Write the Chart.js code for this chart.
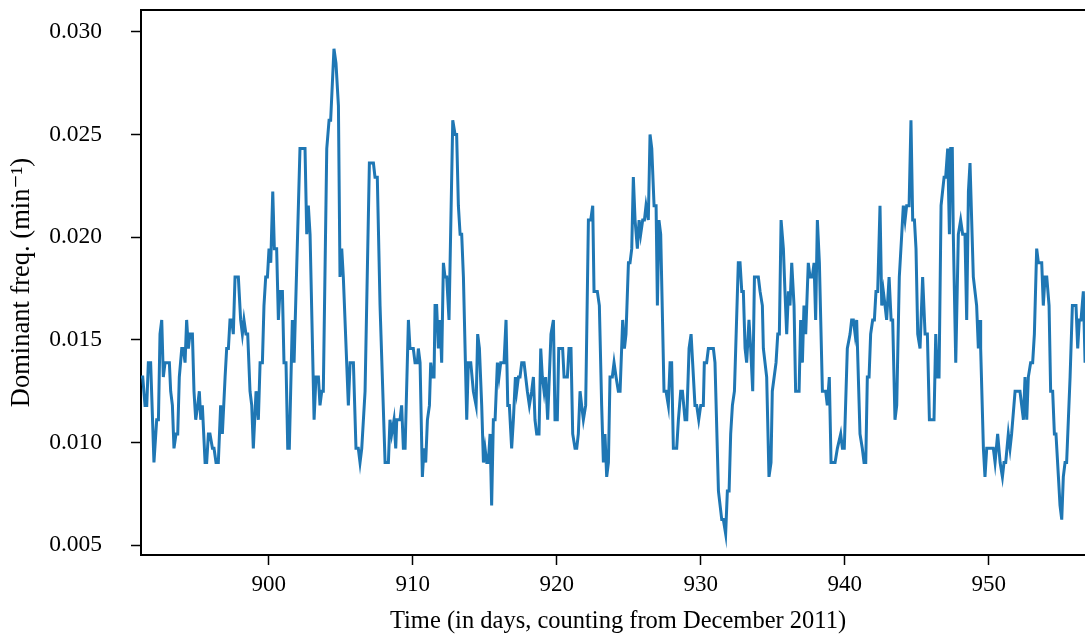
<!DOCTYPE html>
<html>
<head>
<meta charset="utf-8">
<script src="https://cdn.jsdelivr.net/npm/chart.js@4/dist/chart.umd.min.js"></script>
<style>
  html, body { margin: 0; padding: 0; background: #ffffff; overflow: hidden; }
  #wrap { width: 1095px; height: 636px; }
</style>
</head>
<body>
<div id="wrap"><canvas id="c" width="1095" height="636"></canvas></div>
<script>
// Time in days (counting from December 2011)
const days = [
891.13,891.25,891.41,891.53,891.64,891.80,892.03,892.22,892.34,892.45,892.57,892.68,892.80,893.10,893.19,893.31,893.42,893.56,893.68,893.79,
893.96,894.07,894.19,894.30,894.42,894.53,894.70,894.81,894.93,895.07,895.18,895.28,895.39,895.58,895.69,895.81,895.92,896.09,896.20,896.34,
896.50,896.66,896.78,896.97,897.08,897.20,897.31,897.43,897.54,897.66,897.89,898.05,898.17,898.28,898.42,898.54,898.70,898.82,898.93,899.12,
899.28,899.40,899.56,899.67,899.79,899.91,900.02,900.14,900.28,900.39,900.55,900.67,900.78,900.95,901.06,901.20,901.32,901.43,901.64,901.76,
902.17,902.52,902.64,902.75,902.87,903.15,903.28,903.45,903.56,903.68,903.79,904.03,904.19,904.30,904.53,904.67,904.84,904.95,905.07,905.18,
905.53,905.65,905.88,906.06,906.22,906.34,906.46,906.69,906.99,907.27,907.38,907.54,907.73,908.08,908.31,908.42,908.54,908.70,908.82,908.89,
909.12,909.23,909.35,909.47,909.70,909.81,910.04,910.16,910.32,910.39,910.51,910.67,910.78,910.90,911.02,911.16,911.25,911.36,911.48,911.55,
911.66,911.78,911.90,912.01,912.13,912.24,912.36,912.52,912.78,912.94,913.05,913.17,913.29,913.40,913.52,913.75,913.86,914.03,914.21,914.40,
914.51,914.63,914.79,914.91,915.02,915.14,915.25,915.37,915.48,915.60,915.72,915.88,915.99,916.11,916.34,916.48,916.60,916.71,916.87,916.99,
917.13,917.22,917.34,917.45,917.57,917.73,917.96,918.10,918.26,918.38,918.49,918.61,918.77,918.89,919.00,919.12,919.23,919.37,919.60,919.77,
919.88,920.04,920.14,920.41,920.51,920.74,920.85,920.99,921.11,921.27,921.39,921.50,921.62,921.73,921.85,922.01,922.20,922.36,922.50,922.59,
922.82,922.96,923.12,923.24,923.35,923.47,923.59,923.70,923.86,923.98,924.12,924.28,924.40,924.58,924.70,924.81,924.98,925.09,925.21,925.32,
925.44,925.60,925.72,925.83,925.97,926.09,926.20,926.36,926.48,926.60,926.76,926.90,926.99,927.10,927.22,927.45,927.59,927.75,927.87,927.98,
928.10,928.33,928.45,928.61,928.73,928.91,929.03,929.19,929.33,929.60,929.72,929.86,930.00,930.18,930.25,930.41,930.53,930.88,930.99,931.23,
931.46,931.57,931.73,931.85,931.97,932.08,932.20,932.34,932.61,932.73,932.85,932.96,933.08,933.19,933.35,933.47,933.61,933.73,934.00,934.12,
934.28,934.35,934.58,934.74,934.88,934.97,935.23,935.35,935.46,935.58,935.74,935.85,935.97,936.09,936.20,936.32,936.48,936.59,936.83,936.94,
937.06,937.17,937.29,937.47,937.59,937.75,937.87,937.98,938.10,938.24,938.45,938.68,938.79,938.93,939.05,939.33,939.49,939.72,939.84,939.97,
940.18,940.37,940.48,940.60,940.72,940.83,941.06,941.22,941.34,941.46,941.57,941.69,941.80,941.94,942.06,942.17,942.29,942.45,942.57,942.68,
942.80,942.91,943.08,943.22,943.33,943.49,943.61,943.79,943.96,944.07,944.19,944.30,944.47,944.60,944.72,944.84,944.95,945.07,945.23,945.41,
945.58,945.74,945.88,946.20,946.32,946.43,946.55,946.69,946.90,947.01,947.15,947.27,947.36,947.47,947.54,947.71,947.89,948.05,948.19,948.35,
948.47,948.59,948.70,948.93,949.16,949.28,949.40,949.44,949.63,949.74,949.86,950.32,950.44,950.62,950.79,950.95,951.06,951.18,951.36,951.48,
951.59,951.83,952.17,952.41,952.52,952.64,952.75,952.91,953.05,953.17,953.33,953.45,953.68,953.79,953.91,954.03,954.19,954.30,954.44,954.56,
954.67,954.84,954.95,955.07,955.18,955.30,955.41,955.53,955.65,955.81,956.06,956.18,956.29,956.41,956.57,956.69
];

// Dominant frequency (min^-1)
const freq = [
.01319,.01319,.01181,.01181,.01389,.01389,.00903,.01111,.01111,.01528,.01597,.01319,.01389,.01389,.01250,.01181,.00972,.01042,.01042,.01319,
.01458,.01458,.01389,.01597,.01458,.01528,.01528,.01250,.01111,.01181,.01250,.01111,.01181,.00903,.00903,.01042,.01042,.00972,.00972,.00903,
.00903,.01181,.01042,.01319,.01458,.01458,.01597,.01597,.01528,.01806,.01806,.01597,.01528,.01597,.01528,.01528,.01250,.01181,.00972,.01250,
.01111,.01389,.01389,.01667,.01806,.01806,.01944,.01875,.02222,.01944,.01944,.01597,.01736,.01736,.01389,.01389,.00972,.00972,.01597,.01389,
.02431,.02431,.02014,.02153,.02014,.01111,.01319,.01319,.01181,.01250,.01250,.02431,.02569,.02569,.02917,.02847,.02639,.01806,.01944,.01806,
.01181,.01389,.01389,.00972,.00972,.00903,.00972,.01250,.02361,.02361,.02292,.02292,.01667,.00903,.00903,.01111,.01042,.01111,.00972,.01111,
.01111,.01181,.00972,.00972,.01597,.01458,.01458,.01389,.01389,.01458,.01389,.00833,.00972,.00903,.01111,.01181,.01389,.01319,.01319,.01667,
.01667,.01458,.01597,.01389,.01875,.01806,.01806,.01597,.02569,.02500,.02500,.02153,.02014,.02014,.01806,.01111,.01389,.01389,.01250,.01181,
.01528,.01458,.01181,.00903,.00972,.00903,.00903,.01042,.00694,.01111,.01111,.01389,.01319,.01389,.01389,.01597,.01181,.01181,.00972,.01111,
.01319,.01250,.01319,.01319,.01389,.01389,.01250,.01181,.01250,.01319,.01111,.01042,.01042,.01458,.01319,.01250,.01319,.01111,.01528,.01597,
.01111,.01111,.01458,.01458,.01319,.01319,.01458,.01458,.01042,.00972,.00972,.01042,.01250,.01181,.01111,.01181,.02083,.02083,.02153,.01736,
.01736,.01667,.01181,.00903,.01042,.00833,.00903,.01319,.01319,.01389,.01319,.01250,.01250,.01597,.01458,.01528,.01875,.01875,.01944,.02292,
.02083,.01944,.02083,.02014,.02083,.02083,.02153,.02083,.02500,.02431,.02153,.02153,.01667,.02083,.02014,.01250,.01250,.01181,.01389,.01389,
.00972,.00972,.01111,.01250,.01250,.01111,.01111,.01458,.01528,.01181,.01181,.01111,.01181,.01181,.01389,.01389,.01458,.01458,.01389,.00764,
.00625,.00625,.00556,.00764,.00764,.01042,.01181,.01250,.01875,.01875,.01736,.01736,.01458,.01389,.01597,.01458,.01250,.01806,.01806,.01736,
.01667,.01458,.01319,.00833,.00903,.01250,.01389,.01528,.01528,.02083,.01944,.01736,.01528,.01736,.01667,.01875,.01667,.01250,.01250,.01597,
.01389,.01667,.01528,.01875,.01806,.01806,.01875,.01597,.02083,.01875,.01250,.01250,.01181,.01319,.00903,.00903,.00972,.01042,.00972,.00972,
.01458,.01528,.01597,.01597,.01528,.01597,.01042,.00972,.00903,.00903,.01319,.01319,.01528,.01597,.01597,.01736,.01736,.02153,.01667,.01736,
.01667,.01597,.01806,.01597,.01597,.01111,.01181,.01806,.02014,.02153,.02083,.02153,.02153,.02569,.02083,.02083,.01944,.01528,.01458,.01806,
.01528,.01528,.01111,.01111,.01528,.01319,.01319,.02153,.02292,.02292,.02431,.02014,.02431,.02431,.02014,.01389,.02014,.02083,.02014,.02014,
.01597,.02222,.02361,.01806,.01667,.01458,.01597,.01458,.00972,.00833,.00972,.00972,.00903,.01042,.00903,.00833,.00903,.00903,.01042,.00972,
.01042,.01250,.01250,.01111,.01319,.01111,.01319,.01389,.01389,.01528,.01944,.01875,.01875,.01667,.01806,.01806,.01667,.01250,.01250,.01042,
.01042,.00833,.00694,.00625,.00833,.00903,.00903,.01111,.01319,.01667,.01667,.01458,.01597,.01597,.01736,.01389
];

const xTickValues = [900, 910, 920, 930, 940, 950];
const yTickValues = [0.005, 0.010, 0.015, 0.020, 0.025, 0.030];
const xLabel = 'Time (in days, counting from December 2011)';
const yLabel = 'Dominant freq. (min\u207B\u00B9)';

const points = days.map((d, i) => ({ x: d, y: freq[i] }));

const FONT = "'Liberation Serif', 'DejaVu Serif', serif";

const topFrame = {
  id: 'topFrame',
  afterDraw(chart) {
    const { ctx, chartArea } = chart;
    ctx.save();
    ctx.strokeStyle = '#000';
    ctx.lineWidth = 2;
    ctx.beginPath();
    ctx.moveTo(chartArea.left - 1, chartArea.top);
    ctx.lineTo(chartArea.right + 1, chartArea.top);
    ctx.stroke();
    ctx.restore();
  }
};

new Chart(document.getElementById('c'), {
  type: 'line',
  data: {
    datasets: [{
      data: points,
      borderColor: '#1f77b4',
      borderWidth: 3,
      pointRadius: 0,
      tension: 0,
      fill: false
    }]
  },
  options: {
    responsive: false,
    animation: false,
    devicePixelRatio: 1,
    layout: { padding: { top: 10, right: 0, left: 0, bottom: 0 } },
    plugins: { legend: { display: false }, tooltip: { enabled: false } },
    scales: {
      x: {
        type: 'linear',
        min: 891.13,
        max: 957.38,
        afterBuildTicks(scale) { scale.ticks = xTickValues.map(v => ({ value: v })); },
        afterFit(scale) { scale.height = 81; scale.paddingLeft = 0; scale.paddingRight = 0; },
        grid: { drawOnChartArea: false, drawTicks: true, tickLength: 10, tickWidth: 1.5, tickColor: '#000' },
        border: { display: true, color: '#000', width: 2 },
        ticks: {
          color: '#000',
          font: { family: FONT, size: 23 },
          padding: 6,
          maxRotation: 0,
          callback: v => String(v)
        },
        title: {
          display: true,
          text: xLabel,
          color: '#000',
          font: { family: FONT, size: 24.5 },
          padding: { top: 0, bottom: 0 }
        }
      },
      y: {
        type: 'linear',
        min: 0.004528,
        max: 0.031056,
        afterBuildTicks(scale) { scale.ticks = yTickValues.map(v => ({ value: v })); },
        afterFit(scale) { scale.width = 141; scale.paddingTop = 0; scale.paddingBottom = 0; },
        grid: { drawOnChartArea: false, drawTicks: true, tickLength: 10, tickWidth: 1.5, tickColor: '#000' },
        border: { display: true, color: '#000', width: 2 },
        ticks: {
          color: '#000',
          font: { family: FONT, size: 23.5 },
          padding: 29,
          callback: v => v.toFixed(3)
        },
        title: {
          display: true,
          text: yLabel,
          color: '#000',
          font: { family: FONT, size: 26.5 },
          padding: { top: 6, bottom: 0 }
        }
      }
    }
  },
  plugins: [topFrame]
});
</script>
</body>
</html>
